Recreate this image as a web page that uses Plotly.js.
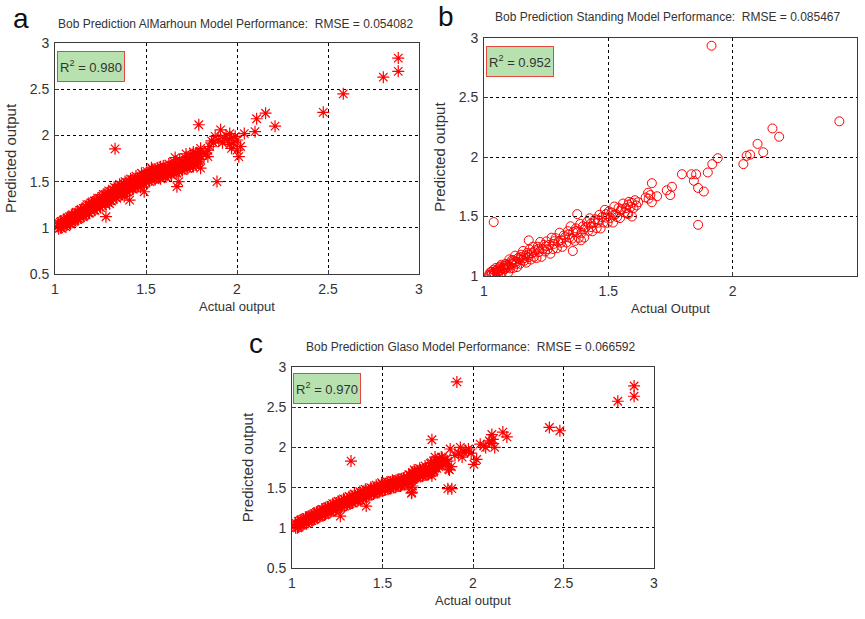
<!DOCTYPE html>
<html>
<head>
<meta charset="utf-8">
<script src="https://cdn.plot.ly/plotly-3.0.1.min.js"></script>
<style>html,body{margin:0;padding:0;background:#fff}#chart{width:865px;height:619px}</style>
</head>
<body>
<div id="chart"></div>
<script>
// ---------- Panel a : AlMarhoun (main band) ----------
const xA = [
  1.02,1.02,1.02, 1.035,1.035,1.035, 1.05,1.05,1.05, 1.065,1.065,1.065, 1.08,1.08,1.08, 1.095,1.095,1.095,
  1.11,1.11,1.11, 1.125,1.125,1.125, 1.14,1.14,1.14, 1.155,1.155,1.155, 1.17,1.17,1.17, 1.185,1.185,1.185,
  1.20,1.20,1.20, 1.215,1.215,1.215, 1.23,1.23,1.23, 1.245,1.245,1.245, 1.26,1.26,1.26, 1.275,1.275,1.275,
  1.29,1.29,1.29, 1.305,1.305,1.305, 1.32,1.32,1.32, 1.335,1.335,1.335, 1.35,1.35,1.35, 1.365,1.365,1.365,
  1.38,1.38,1.38, 1.395,1.395,1.395, 1.41,1.41,1.41, 1.425,1.425,1.425, 1.44,1.44,1.44, 1.455,1.455,1.455,
  1.47,1.47,1.47, 1.485,1.485,1.485, 1.50,1.50,1.50, 1.515,1.515,1.515, 1.53,1.53,1.53, 1.545,1.545,1.545,
  1.56,1.56,1.56, 1.575,1.575,1.575, 1.59,1.59,1.59, 1.605,1.605,1.605, 1.62,1.62,1.62, 1.635,1.635,1.635,
  1.65,1.65,1.65, 1.665,1.665,1.665, 1.68,1.68,1.68, 1.695,1.695,1.695, 1.71,1.71,1.71, 1.725,1.725,1.725,
  1.74,1.74,1.74, 1.755,1.755,1.755, 1.77,1.77,1.77, 1.785,1.785,1.785, 1.80,1.80,1.80];
const yA = [
  0.99,1.02,1.05, 1.00,1.04,1.07, 1.02,1.05,1.09, 1.03,1.07,1.10, 1.05,1.08,1.12, 1.06,1.10,1.14,
  1.08,1.12,1.15, 1.09,1.13,1.17, 1.11,1.15,1.19, 1.12,1.17,1.21, 1.14,1.19,1.23, 1.16,1.20,1.25,
  1.18,1.22,1.27, 1.19,1.24,1.29, 1.21,1.26,1.30, 1.23,1.28,1.32, 1.24,1.29,1.34, 1.26,1.31,1.36,
  1.28,1.33,1.38, 1.30,1.35,1.39, 1.31,1.36,1.41, 1.33,1.38,1.43, 1.35,1.40,1.44, 1.36,1.41,1.46,
  1.38,1.43,1.47, 1.39,1.44,1.49, 1.41,1.46,1.50, 1.42,1.47,1.52, 1.44,1.48,1.53, 1.45,1.50,1.54,
  1.47,1.51,1.55, 1.48,1.52,1.57, 1.50,1.54,1.58, 1.51,1.55,1.59, 1.52,1.56,1.60, 1.53,1.57,1.61,
  1.54,1.58,1.62, 1.55,1.59,1.63, 1.56,1.60,1.64, 1.57,1.61,1.65, 1.58,1.62,1.66, 1.59,1.63,1.67,
  1.60,1.64,1.68, 1.61,1.65,1.69, 1.62,1.66,1.70, 1.63,1.67,1.71, 1.64,1.68,1.72, 1.65,1.69,1.73,
  1.66,1.70,1.75, 1.67,1.71,1.76, 1.68,1.73,1.77, 1.70,1.75,1.80, 1.74,1.78,1.83];
// panel a: points filling the band edges
const xAfill = [1.03,1.03,1.045,1.06,1.07,1.085,1.09,1.105,1.115,1.13,1.145,1.16,1.175,1.19,1.205,1.22,1.235,1.25,1.265,1.28,1.295,1.31,1.325,1.34,1.355,1.37,1.385,1.40,1.415,1.43,1.445,1.46,1.475,1.49,1.505,1.52,1.535,1.55,1.565,1.58,1.595,1.61,1.625,1.64,1.655,1.67,1.685,1.70,1.715,1.73,1.745,1.76,1.775,1.79,1.58,1.62,1.47,1.38,1.30,1.72,1.76,1.66,1.53];
const yAfill = [1.00,1.06,1.08,1.01,1.11,1.04,1.13,1.07,1.17,1.10,1.20,1.13,1.25,1.16,1.28,1.19,1.32,1.22,1.36,1.25,1.40,1.29,1.44,1.32,1.47,1.36,1.50,1.39,1.53,1.42,1.56,1.45,1.59,1.48,1.61,1.50,1.63,1.52,1.65,1.53,1.67,1.55,1.69,1.57,1.71,1.59,1.74,1.62,1.76,1.64,1.78,1.66,1.81,1.72,1.66,1.57,1.44,1.34,1.26,1.80,1.82,1.76,1.65];
// panel a: scattered points and upper cluster
const xAout = [1.28,1.41,1.49,1.67,1.68,1.80,1.89,1.33,1.79,
  1.80,1.80,1.84,1.84,1.85,1.87,1.88,1.90,1.91,1.92,1.93,1.94,1.95,1.96,1.96,1.97,1.97,1.98,1.99,2.00,2.00,2.01,2.02,2.04,1.83,1.86,
  2.886,2.886,2.804,2.584,2.474,2.157,2.108,2.209,2.099];
const yAout = [1.12,1.30,1.39,1.445,1.50,1.645,1.50,1.855,2.115,
  1.86,1.82,1.84,1.77,1.88,1.92,1.99,1.95,2.06,1.92,1.97,2.00,1.95,1.90,2.02,1.86,1.97,1.92,1.99,1.84,1.95,1.77,1.88,2.02,1.80,1.94,
  2.837,2.693,2.63,2.45,2.25,2.24,2.18,2.10,2.04];

// ---------- Panel b : Standing ----------
const xB = [1.020,1.025,1.030,1.033,1.038,1.042,1.045,1.048,1.052,1.055,1.058,1.062,1.066,1.070,1.073,1.077,1.080,1.084,1.087,1.091,1.095,1.098,1.102,1.106,1.110,1.113,1.117,1.121,1.125,1.129,1.133,1.137,1.141,1.145,1.149,1.153,1.157,1.161,1.166,1.170,1.174,1.179,1.183,1.188,1.192,1.197,1.201,1.206,1.211,1.216,1.221,1.226,1.231,1.236,1.241,1.246,1.251,1.256,1.262,1.267,1.272,1.277,1.283,1.288,1.293,1.299,1.304,1.310,1.315,1.321,1.326,1.332,1.337,1.343,1.348,1.354,1.359,1.365,1.370,1.376,1.381,1.387,1.392,1.398,1.403,1.409,1.414,1.420,1.425,1.431,1.436,1.442,1.447,1.453,1.458,1.464,1.469,1.475,1.480,1.486,1.491,1.497,1.502,1.508,1.513,1.519,1.524,1.530,1.535,1.541,1.547,1.553,1.559,1.565,1.571,1.577,1.583,1.589,1.595,1.601,1.607,1.613];
const yB = [1.010,1.005,1.035,1.018,1.053,1.012,1.040,1.068,1.027,1.055,1.023,1.072,1.051,1.095,1.033,1.067,1.085,1.059,1.102,1.071,1.093,1.032,1.140,1.064,1.116,1.135,1.067,1.111,1.171,1.103,1.075,1.151,1.139,1.103,1.179,1.135,1.211,1.127,1.172,1.112,1.194,1.159,1.223,1.138,1.192,1.247,1.161,1.216,1.151,1.246,1.201,1.286,1.161,1.226,1.261,1.206,1.291,1.226,1.262,1.187,1.322,1.227,1.293,1.318,1.233,1.289,1.364,1.280,1.245,1.341,1.326,1.282,1.377,1.323,1.418,1.314,1.369,1.295,1.400,1.366,1.321,1.437,1.362,1.418,1.323,1.409,1.454,1.380,1.485,1.411,1.376,1.452,1.477,1.403,1.448,1.514,1.399,1.495,1.450,1.556,1.491,1.447,1.542,1.488,1.533,1.449,1.584,1.520,1.495,1.571,1.487,1.563,1.609,1.535,1.571,1.527,1.623,1.579,1.615,1.571,1.637,1.593];
const xBfill = [1.025,1.04,1.05,1.06,1.065,1.08,1.09,1.10,1.11,1.12,1.13,1.15,1.16,1.18,1.20,1.22,1.25,1.28,1.31,1.34,1.37,1.40,1.43,1.46,1.49,1.52,1.55,1.58];
const yBfill = [1.03,1.025,1.045,1.04,1.08,1.06,1.09,1.08,1.10,1.13,1.12,1.16,1.15,1.18,1.20,1.23,1.25,1.27,1.30,1.35,1.38,1.39,1.44,1.47,1.52,1.51,1.55,1.60];
const xBout = [1.18,1.375,1.357,1.39,1.58,1.595,1.62,1.039,
  1.65,1.662,1.66,1.675,1.669,1.675,1.696,1.735,1.749,1.756,1.796,1.834,1.853,1.844,1.861,1.884,1.861,1.90,1.918,1.94,
  2.043,2.056,2.07,2.10,2.123,2.16,2.187,2.429,1.915];
const yBout = [1.30,1.52,1.21,1.30,1.52,1.50,1.62,1.453,
  1.66,1.65,1.70,1.62,1.68,1.78,1.67,1.72,1.68,1.75,1.855,1.855,1.855,1.80,1.74,1.71,1.43,1.87,1.94,1.99,
  1.94,2.01,2.02,2.11,2.04,2.24,2.17,2.30,2.935];

// ---------- Panel c : Glaso ----------
const xC = [
  1.02,1.02,1.02, 1.035,1.035,1.035, 1.05,1.05,1.05, 1.065,1.065,1.065, 1.08,1.08,1.08, 1.095,1.095,1.095,
  1.11,1.11,1.11, 1.125,1.125,1.125, 1.14,1.14,1.14, 1.155,1.155,1.155, 1.17,1.17,1.17, 1.185,1.185,1.185,
  1.20,1.20,1.20, 1.215,1.215,1.215, 1.23,1.23,1.23, 1.245,1.245,1.245, 1.26,1.26,1.26, 1.275,1.275,1.275,
  1.29,1.29,1.29, 1.305,1.305,1.305, 1.32,1.32,1.32, 1.335,1.335,1.335, 1.35,1.35,1.35, 1.365,1.365,1.365,
  1.38,1.38,1.38, 1.395,1.395,1.395, 1.41,1.41,1.41, 1.425,1.425,1.425, 1.44,1.44,1.44, 1.455,1.455,1.455,
  1.47,1.47,1.47, 1.485,1.485,1.485, 1.50,1.50,1.50, 1.515,1.515,1.515, 1.53,1.53,1.53, 1.545,1.545,1.545,
  1.56,1.56,1.56, 1.575,1.575,1.575, 1.59,1.59,1.59, 1.605,1.605,1.605, 1.62,1.62,1.62, 1.635,1.635,1.635,
  1.65,1.65,1.65, 1.665,1.665,1.665, 1.68,1.68,1.68, 1.695,1.695,1.695, 1.71,1.71,1.71, 1.725,1.725,1.725,
  1.74,1.74,1.74, 1.755,1.755,1.755, 1.77,1.77,1.77, 1.785,1.785,1.785, 1.80,1.80,1.80, 1.815,1.815,1.815,
  1.83,1.83,1.83];
const yC = [
  1.00,1.03,1.06, 1.01,1.05,1.08, 1.03,1.06,1.10, 1.05,1.08,1.11, 1.06,1.10,1.13, 1.08,1.11,1.15,
  1.09,1.13,1.16, 1.11,1.15,1.18, 1.13,1.16,1.20, 1.14,1.18,1.21, 1.16,1.20,1.23, 1.17,1.21,1.25,
  1.19,1.23,1.26, 1.20,1.24,1.28, 1.22,1.26,1.29, 1.23,1.27,1.31, 1.25,1.29,1.32, 1.26,1.30,1.34,
  1.27,1.31,1.35, 1.29,1.33,1.36, 1.30,1.34,1.38, 1.31,1.35,1.39, 1.33,1.37,1.40, 1.34,1.38,1.42,
  1.35,1.39,1.43, 1.37,1.41,1.45, 1.39,1.43,1.46, 1.40,1.44,1.47, 1.42,1.46,1.49, 1.43,1.47,1.50,
  1.44,1.48,1.51, 1.45,1.49,1.52, 1.46,1.50,1.54, 1.47,1.51,1.55, 1.48,1.52,1.56, 1.49,1.53,1.57,
  1.50,1.54,1.58, 1.51,1.55,1.59, 1.52,1.56,1.60, 1.53,1.57,1.61, 1.54,1.58,1.62, 1.55,1.59,1.63,
  1.57,1.61,1.66, 1.60,1.64,1.69, 1.62,1.66,1.70, 1.63,1.67,1.71, 1.64,1.68,1.72, 1.65,1.69,1.73,
  1.66,1.70,1.74, 1.67,1.71,1.75, 1.69,1.73,1.77, 1.71,1.75,1.79, 1.74,1.78,1.82, 1.78,1.82,1.86,
  1.80,1.84,1.87];
const xCfill = [1.03,1.045,1.06,1.075,1.09,1.105,1.12,1.135,1.15,1.165,1.18,1.195,1.21,1.225,1.24,1.255,1.27,1.285,1.30,1.315,1.33,1.345,1.36,1.375,1.39,1.405,1.42,1.435,1.45,1.465,1.48,1.495,1.51,1.525,1.54,1.555,1.57,1.585,1.60,1.615,1.63,1.645,1.66,1.675,1.69,1.705,1.72,1.735,1.75,1.765,1.78,1.795,1.81,1.825,1.84,1.85,1.86];
const yCfill = [1.00,1.09,1.03,1.12,1.07,1.15,1.10,1.19,1.13,1.23,1.16,1.26,1.19,1.30,1.22,1.33,1.25,1.36,1.28,1.39,1.31,1.42,1.33,1.45,1.36,1.48,1.39,1.50,1.42,1.53,1.44,1.56,1.47,1.57,1.49,1.59,1.50,1.60,1.52,1.62,1.54,1.66,1.58,1.72,1.62,1.74,1.64,1.77,1.66,1.80,1.70,1.84,1.76,1.88,1.80,1.85,1.83];
const xCout = [1.267,1.41,1.66,1.66,1.662,1.666,1.861,1.883,1.865,1.773,1.326,1.773,
  1.834,1.79,1.77,1.85,1.87,1.88,1.90,1.874,1.92,1.93,1.94,1.95,1.96,1.975,1.99,2.005,2.02,2.04,2.06,2.07,2.09,2.104,2.104,2.11,2.12,2.165,2.187,
  1.911,2.89,2.89,2.80,2.422,2.48];
const yCout = [1.145,1.27,1.43,1.50,1.44,1.52,1.487,1.487,1.73,1.645,1.83,2.095,
  1.83,1.88,1.81,1.79,1.72,1.76,1.90,1.98,1.93,2.00,1.88,1.94,1.96,1.98,1.93,1.79,1.85,2.04,2.02,2.00,2.08,2.16,2.05,2.10,2.00,2.19,2.13,
  2.814,2.764,2.636,2.574,2.248,2.207];

const titles = [
  'Bob Prediction AlMarhoun Model Performance:  RMSE = 0.054082',
  'Bob Prediction Standing Model Performance:  RMSE = 0.085467',
  'Bob Prediction Glaso Model Performance:  RMSE = 0.066592'
];
const r2Labels = ['R<sup>2</sup> = 0.980', 'R<sup>2</sup> = 0.952', 'R<sup>2</sup> = 0.970'];
const panelLetters = ['a', 'b', 'c'];
const xTitles = ['Actual output', 'Actual Output', 'Actual output'];
const yTitle = 'Predicted output';

const FONT = "'Liberation Sans', Arial, sans-serif";
const W = 865, H = 619;
const px = v => v / W;
const py = v => 1 - v / H;

const red = '#ff0000';
const starMarker = {symbol: 'asterisk-open', size: 10, color: red, line: {color: red, width: 1.2}};
const circleMarker = {symbol: 'circle-open', size: 9, color: red, line: {color: red, width: 1}};
const traces = [
  {x: xA.concat(xAfill, xAout), y: yA.concat(yAfill, yAout), xaxis: 'x', yaxis: 'y',
   type: 'scatter', mode: 'markers', marker: starMarker},
  {x: xB.concat(xBfill, xBout), y: yB.concat(yBfill, yBout), xaxis: 'x2', yaxis: 'y2',
   type: 'scatter', mode: 'markers', marker: circleMarker},
  {x: xC.concat(xCfill, xCout), y: yC.concat(yCfill, yCout), xaxis: 'x3', yaxis: 'y3',
   type: 'scatter', mode: 'markers', marker: starMarker}
];

const axTitleFont = {family: FONT, size: 13, color: '#333'};
const yTitleFont = {family: FONT, size: 15, color: '#333'};
function ax(extra) {
  return Object.assign({
    showline: true, linecolor: '#3a3a3a', linewidth: 1, mirror: true,
    ticks: 'inside', ticklen: 4, tickcolor: '#3a3a3a',
    showgrid: true, gridcolor: '#000', griddash: '3px,3px', gridwidth: 1,
    zeroline: false, tickfont: {family: FONT, size: 14, color: '#333'},
    ticklabelstandoff: 2
  }, extra);
}

// plot-area rectangles in pixels [left, right, top, bottom]
const boxes = [[55, 419, 43, 274], [484, 857, 38, 276], [292, 654, 367, 568]];

const layout = {
  width: W, height: H, margin: {l: 0, r: 0, t: 0, b: 0},
  paper_bgcolor: '#fff', plot_bgcolor: '#fff', showlegend: false,
  xaxis: ax({domain: [px(boxes[0][0]), px(boxes[0][1])], range: [1, 3], dtick: 0.5, anchor: 'y',
    title: {text: xTitles[0], font: axTitleFont, standoff: 6}}),
  yaxis: ax({domain: [py(boxes[0][3]), py(boxes[0][2])], range: [0.5, 3], dtick: 0.5, anchor: 'x',
    title: {text: yTitle, font: yTitleFont, standoff: 9}}),
  xaxis2: ax({domain: [px(boxes[1][0]), px(boxes[1][1])], range: [1, 2.5], dtick: 0.5, anchor: 'y2',
    title: {text: xTitles[1], font: axTitleFont, standoff: 6}}),
  yaxis2: ax({domain: [py(boxes[1][3]), py(boxes[1][2])], range: [1, 3], dtick: 0.5, anchor: 'x2',
    title: {text: yTitle, font: yTitleFont, standoff: 9}}),
  xaxis3: ax({domain: [px(boxes[2][0]), px(boxes[2][1])], range: [1, 3], dtick: 0.5, anchor: 'y3',
    title: {text: xTitles[2], font: axTitleFont, standoff: 6}}),
  yaxis3: ax({domain: [py(boxes[2][3]), py(boxes[2][2])], range: [0.5, 3], dtick: 0.5, anchor: 'x3',
    title: {text: yTitle, font: yTitleFont, standoff: 9}}),
  annotations: []
};

const titlePos = [[236, 24], [668, 17], [471, 347]];
const letterPos = [[21, 18], [446, 17], [256, 343]];
const r2Pos = [[91, 66], [520, 61], [327, 388]];
for (let i = 0; i < 3; i++) {
  layout.annotations.push({
    text: titles[i], xref: 'paper', yref: 'paper', x: px(titlePos[i][0]), y: py(titlePos[i][1]),
    xanchor: 'center', yanchor: 'middle', showarrow: false,
    font: {family: FONT, size: 12, color: '#333'}
  });
  layout.annotations.push({
    text: panelLetters[i], xref: 'paper', yref: 'paper', x: px(letterPos[i][0]), y: py(letterPos[i][1]),
    xanchor: 'center', yanchor: 'middle', showarrow: false,
    font: {family: FONT, size: 28, color: '#111'}
  });
  layout.annotations.push({
    text: r2Labels[i], xref: 'paper', yref: 'paper', x: px(r2Pos[i][0]), y: py(r2Pos[i][1]),
    xanchor: 'center', yanchor: 'middle', showarrow: false,
    width: 62, height: 25, borderpad: 2,
    bgcolor: '#b7e2b0', bordercolor: '#e2463c', borderwidth: 1,
    font: {family: FONT, size: 13, color: '#333'}
  });
}

Plotly.newPlot('chart', traces, layout, {staticPlot: true, displayModeBar: false});
</script>
</body>
</html>
